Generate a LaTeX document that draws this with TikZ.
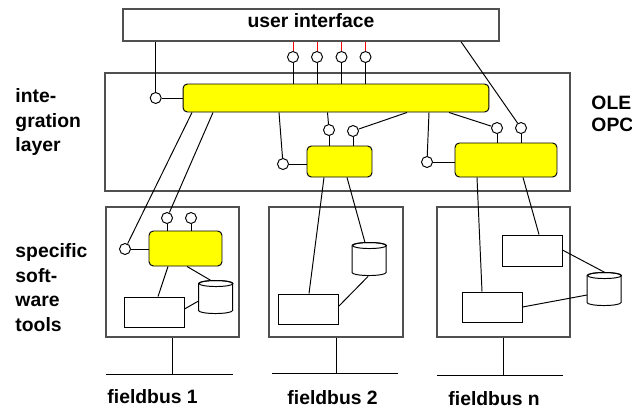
\documentclass[tikz,border=0pt]{standalone}
\usepackage{fontspec}
\setmainfont{Liberation Sans}
\definecolor{panelgray}{RGB}{80,80,80}
\definecolor{toolyellow}{RGB}{255,255,0}

% a drum (data store): name, x, y of its centre
\newcommand{\drum}[3]{%
  \node [drumbox] (#1) at (#2,#3) {};
  \draw [fill=white] (#1.north west) ++(0,3) -- ++(0,27) arc (180:0:17 and 3)
    -- ++(0,-27) arc (360:180:17 and 3) -- cycle;
  \draw ([yshift=-3*0.02cm]#1.north) ellipse (17 and 3);
}

\begin{document}
\begin{tikzpicture}[x=0.02cm, y=-0.02cm, line width=0.55pt,
  panel/.style={draw=panelgray, line width=0.8pt, inner sep=0},
  tool/.style={draw, fill=toolyellow, rounded corners=2.5pt, inner sep=0},
  port/.style={circle, draw, fill=white, minimum size=0.22cm, inner sep=0},
  blank/.style={draw, inner sep=0, minimum width=1.2cm, minimum height=0.6cm},
  drumbox/.style={inner sep=0, minimum width=0.68cm, minimum height=0.66cm},
  lbl/.style={font=\fontsize{11}{14}\selectfont\bfseries, align=left, inner sep=0}]
\useasboundingbox (0,0) rectangle (632,407);
%
\node [panel, minimum width=7.52cm, minimum height=0.64cm, font=\fontsize{11}{14}\selectfont\bfseries,
  text height=8pt, text depth=4.6pt] (ui) at (311,25) {user interface};
\node [panel, minimum width=9.3cm, minimum height=2.36cm] (il) at (337.5,132) {};
\node [panel, minimum width=2.66cm, minimum height=2.6cm] (b1) at (172.5,272) {};
\node [panel, minimum width=2.68cm, minimum height=2.6cm] (b2) at (336,272) {};
\node [panel, minimum width=2.66cm, minimum height=2.6cm] (b3) at (503.5,272) {};
%
\node [lbl, anchor=north west] (lint) at (15,88) {inte-\\gration\\layer};
\node [lbl, anchor=north west] (lsw) at (15,243) {specific\\soft-\\ware\\tools};
\node [lbl, anchor=north west, font=\fontsize{11}{12}\selectfont\bfseries] (lole) at (591,96) {OLE\\OPC};
\node [lbl, anchor=base west] (fb1) at (107,403) {fieldbus 1};
\node [lbl, anchor=base west] (fb2) at (287,404.5) {fieldbus 2};
\node [lbl, anchor=base west] (fbn) at (448,405.5) {fieldbus n};
%
\node [tool, minimum width=6.12cm, minimum height=0.56cm] (big) at (336,98) {};
\node [tool, minimum width=1.3cm, minimum height=0.62cm] (mid) at (339.5,161.5) {};
\node [tool, minimum width=2.04cm, minimum height=0.68cm] (rgt) at (506,160) {};
\node [tool, minimum width=1.46cm, minimum height=0.7cm] (tl1) at (185.5,248.5) {};
%
\node [port] (pl) at (155.7,98) {};
\node [port] (pu1) at (293,57) {};
\node [port] (pu2) at (317,57) {};
\node [port] (pu3) at (341.5,57) {};
\node [port] (pu4) at (365.5,57) {};
\node [port] (pm0) at (283,164) {};
\node [port] (pm1) at (329,130) {};
\node [port] (pm2) at (353,131) {};
\node [port] (pr0) at (427,162) {};
\node [port] (pr1) at (497,128) {};
\node [port] (pr2) at (521,128) {};
\node [port] (pt0) at (125,249) {};
\node [port] (pt1) at (167,218) {};
\node [port] (pt2) at (191,218) {};
%
\node [blank] (r1) at (154,312) {};
\node [blank] (r2) at (308.5,309) {};
\node [blank, minimum height=0.62cm] (r3a) at (532,250.5) {};
\node [blank] (r3b) at (492,307) {};
\drum{d1}{216}{297.5}
\drum{d2}{369.5}{259.5}
\drum{d3}{604.5}{289.5}
%
\coordinate (bus1w) at (106,374); \coordinate (bus1e) at (233,374);
\coordinate (bus2w) at (272,373.5); \coordinate (bus2e) at (398,373.5);
\coordinate (busnw) at (437,375); \coordinate (busne) at (563,375);
%
\draw (pl) -- (pl |- ui.south);
\draw (pl) -- (pl -| big.west);
\foreach \p in {pu1,pu2,pu3,pu4} {
  \draw [red] (\p) -- (\p |- ui.south);
  \draw (\p) -- (\p |- big.north);
}
\draw (192,0 |- big.south) -- (pt0);
\draw (213,0 |- big.south) -- (pt1);
\draw (279,0 |- big.south) -- (pm0);
\draw (pm0) -- (pm0 -| mid.west);
\draw (327.5,0 |- big.south) -- (pm1);
\draw (407,0 |- big.south) -- (pm2);
\draw (429,0 |- big.south) -- (pr0);
\draw (pr0) -- (pr0 -| rgt.west);
\draw (449,0 |- big.south) -- (pr1);
\draw (461,0 |- ui.south) -- (pr2);
\foreach \p in {pm1,pm2} \draw (\p) -- (\p |- mid.north);
\foreach \p in {pr1,pr2} \draw (\p) -- (\p |- rgt.north);
\foreach \p in {pt1,pt2} \draw (\p) -- (\p |- tl1.north);
\draw (pt0) -- (pt0 -| tl1.west);
%
\draw (168,0 |- tl1.south) -- (158,0 |- r1.north);
\draw (187,0 |- tl1.south) -- (211,0 |- d1.north);
\draw (r1.east |- 0,309) -- (d1.west |- 0,301);
\draw (324,0 |- mid.south) -- (309,0 |- r2.north);
\draw (347,0 |- mid.south) -- (365,0 |- d2.north);
\draw (368,0 |- d2.south) -- (r2.east |- 0,306);
\draw (477,0 |- rgt.south) -- (482,0 |- r3b.north);
\draw (523,0 |- rgt.south) -- (539,0 |- r3a.north);
\draw (r3a.east |- 0,250) -- (605,0 |- d3.north);
\draw (r3b.east |- 0,307) -- (d3.west |- 0,295);
%
\draw (b1.south) -- (b1.south |- bus1w);
\draw (bus1w) -- (bus1e);
\draw (b2.south) -- (b2.south |- bus2w);
\draw (bus2w) -- (bus2e);
\draw (b3.south) -- (b3.south |- busnw);
\draw (busnw) -- (busne);
%
\end{tikzpicture}
\end{document}
